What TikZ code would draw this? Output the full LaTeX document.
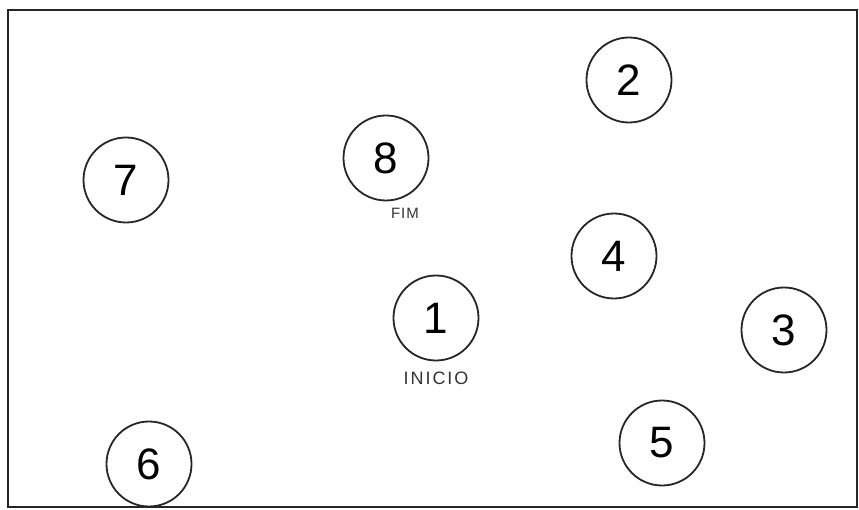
\documentclass[tikz,border=0pt]{standalone}
\usepackage{fontspec}
\newfontfamily\handfont{Liberation Sans}
\begin{document}
\begin{tikzpicture}[x=1pt,y=-1pt,
  spot/.style={draw=black!85,line width=1.8pt,circle,minimum size=85pt,inner sep=0pt,
    font=\handfont\fontsize{44}{44}\selectfont},
  tag/.style={font=\handfont\fontsize{15}{15}\selectfont,text=black!80}]
\useasboundingbox (0,0) rectangle (859,510);
\node[draw=black!85,line width=1.8pt,minimum width=849pt,minimum height=497pt,inner sep=0pt] (frame) at (432.5,258.5) {};
\node[spot] (n2) at (629,80) {2};
\node[spot] (n8) at (386,158) {8};
\node[spot] (n7) at (126,180) {7};
\node[spot] (n4) at (614,256) {4};
\node[spot] (n1) at (436,318) {1};
\node[spot] (n3) at (784,330) {3};
\node[spot] (n6) at (149,464) {6};
\node[spot] (n5) at (662,443) {5};
\node[tag] (fim) at (405,213) {F\kern1pt I\kern1pt M};
\node[tag,font=\handfont\fontsize{18}{18}\selectfont] (inicio) at (436,378) {I\kern2pt N\kern2pt I\kern2pt C\kern2pt I\kern2pt O};
\end{tikzpicture}
\end{document}
